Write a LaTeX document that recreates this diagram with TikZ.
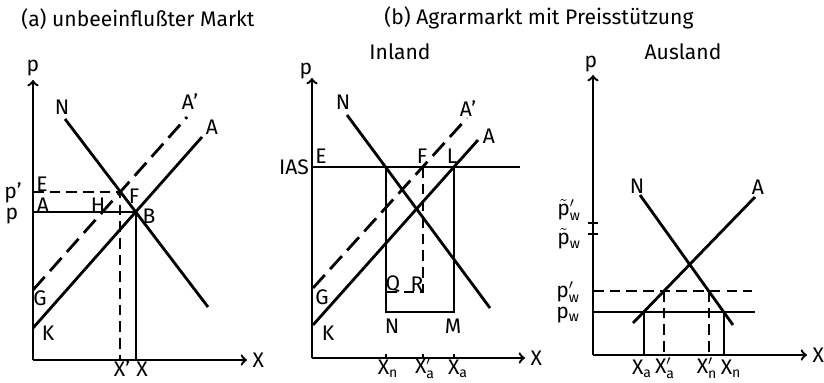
\documentclass[tikz,border=0pt]{standalone}
\usepackage{fontspec}
\setmainfont{Fira Sans}
\usetikzlibrary{arrows, positioning}

\begin{document}
\begin{tikzpicture}[x=0.02cm, y=-0.02cm, font=\large,
    axis/.style={->, line width=1.3pt},
    curve/.style={line width=1.6pt},
    dcurve/.style={line width=1.6pt, dash pattern=on 10pt off 4.5pt},
    guide/.style={line width=1.2pt},
    dguide/.style={line width=1.2pt, dash pattern=on 6pt off 3.5pt},
    lbl/.style={inner sep=0pt}]
    \useasboundingbox (0,0) rectangle (824,382);

    % Titel
    \node[lbl] (titleA) at (138,19) {(a) unbeeinflußter Markt};
    \node[lbl] (titleB) at (539,18) {(b) Agrarmarkt mit Preisstützung};
    \node[lbl] (inland) at (400,52) {Inland};
    \node[lbl] (ausland) at (683,52) {Ausland};

    % ---- (a) unbeeinflusster Markt
    \coordinate (aO) at (33,360);
    \coordinate (aYtop) at (33,80);
    \coordinate (aXend) at (247,360);
    \draw[axis] (aO) -- (aYtop);
    \draw[axis] (aO) -- (aXend);
    \node[lbl] (aP) at (33,68) {p};
    \node[lbl, right=3pt of aXend] (aX) {X};
    % Nachfrage und Angebot
    \coordinate (aN1) at (65,119);
    \coordinate (aN2) at (208,307);
    \coordinate (aK) at (33,328);
    \coordinate (aA2) at (202,137);
    \coordinate (aG) at (33,290);
    \coordinate (aA1) at (187,117);
    \draw[curve] (aN1) -- (aN2);
    \draw[curve] (aK) -- (aA2);
    \draw[dcurve] (aG) -- (aA1);
    \coordinate (aF) at (intersection of aN1--aN2 and aG--aA1);
    \coordinate (aB) at (intersection of aN1--aN2 and aK--aA2);
    \draw[dguide] (aO |- aF) -- (aF) -- (aF |- aO);
    \draw[guide] (aO |- aB) -- (aB) -- (aB |- aO);
    \node[lbl] (aNl) at (62,107) {N};
    \node[lbl] (aA1l) at (190,102) {A'};
    \node[lbl] (aA2l) at (212,127) {A};
    \node[lbl] (aEl) at (42,184) {E};
    \node[lbl] (aPp) at (13,193) {p'};
    \node[lbl] (aAl) at (43,205) {A};
    \node[lbl] (aPl) at (12,216) {p};
    \node[lbl] (aHl) at (98,205) {H};
    \node[lbl] (aFl) at (134,196) {F};
    \node[lbl] (aBl) at (149,216) {B};
    \node[lbl] (aGl) at (40,298) {G};
    \node[lbl] (aKl) at (48,333) {K};
    \node[lbl] (aXp) at (122,369) {X'};
    \node[lbl] (aXb) at (142,369) {X};

    % ---- (b) Inland
    \coordinate (bO) at (312,358);
    \coordinate (bYtop) at (312,78);
    \coordinate (bXend) at (525,358);
    \draw[axis] (bO) -- (bYtop);
    \draw[axis] (bO) -- (bXend);
    \node[lbl] (bP) at (306,71) {p};
    \node[lbl, right=3pt of bXend] (bX) {X};
    % Interventionspreis
    \coordinate (bE) at (312,167);
    \coordinate (bEend) at (520,167);
    \draw[guide] (bE) -- (bEend);
    % Nachfrage und Angebot
    \coordinate (bN1) at (347,115);
    \coordinate (bN2) at (490,308);
    \coordinate (bK) at (313,325);
    \coordinate (bA2) at (478,140);
    \coordinate (bG) at (313,288);
    \coordinate (bA1) at (467,118);
    \draw[curve] (bN1) -- (bN2);
    \draw[curve] (bK) -- (bA2);
    \draw[dcurve] (bG) -- (bA1);
    \coordinate (bNn) at (intersection of bN1--bN2 and bE--bEend);
    \coordinate (bF) at (intersection of bG--bA1 and bE--bEend);
    \coordinate (bL) at (intersection of bK--bA2 and bE--bEend);
    \coordinate (bN) at (bNn |- 0,312);
    \coordinate (bM) at (bL |- 0,312);
    \coordinate (bQ) at (bNn |- 0,292);
    \coordinate (bR) at (bF |- 0,292);
    \draw[guide] (bNn) -- (bN) -- (bM) -- (bL);
    \draw[dguide] (bF) -- (bR) -- (bQ);
    \foreach \c in {bNn, bF, bL}
        \draw[guide] (\c |- bO) -- ++(0,-4);
    \node[lbl] (bIAS) at (294,167) {IAS};
    \node[lbl] (bEl) at (321,156) {E};
    \node[lbl] (bNl) at (343,102) {N};
    \node[lbl] (bA1l) at (468,109) {A'};
    \node[lbl] (bA2l) at (489,136) {A};
    \node[lbl] (bFl) at (422,156) {F};
    \node[lbl] (bLl) at (452,156) {L};
    \node[lbl] (bGl) at (322,297) {G};
    \node[lbl] (bKl) at (328,333) {K};
    \node[lbl] (bQl) at (393,284) {Q};
    \node[lbl] (bRl) at (417,284) {R};
    \node[lbl] (bNb) at (392,326) {N};
    \node[lbl] (bMl) at (453,326) {M};
    \node[lbl] (bXn) at (388,369) {X\textsubscript{n}};
    \node[lbl] (bXa1) at (425,368) {$\mathrm{X}'_{\mathrm{a}}$};
    \node[lbl] (bXa) at (458,369) {X\textsubscript{a}};

    % ---- (b) Ausland
    \coordinate (cO) at (593,355);
    \coordinate (cYtop) at (593,75);
    \coordinate (cXend) at (807,355);
    \draw[axis] (cO) -- (cYtop);
    \draw[axis] (cO) -- (cXend);
    \node[lbl] (cP) at (591,64) {p};
    \node[lbl, right=3pt of cXend] (cX) {X};
    % Weltmarktpreise
    \coordinate (cT1) at (593,223);
    \coordinate (cT2) at (593,234);
    \foreach \c in {cT1, cT2}
        \draw[guide] ([xshift=-3]\c) -- ([xshift=3]\c);
    \coordinate (cPw1) at (593,291);
    \coordinate (cPw1end) at (752,291);
    \coordinate (cPw) at (593,312);
    \coordinate (cPwend) at (755,312);
    \draw[dguide] (cPw1) -- (cPw1end);
    \draw[guide] (cPw) -- (cPwend);
    % Nachfrage und Angebot
    \coordinate (cN1) at (640,195);
    \coordinate (cN2) at (733,325);
    \coordinate (cA1) at (633,323);
    \coordinate (cA2) at (755,197);
    \draw[curve] (cN1) -- (cN2);
    \draw[curve] (cA1) -- (cA2);
    \coordinate (cXa) at (intersection of cA1--cA2 and cPw--cPwend);
    \coordinate (cXn) at (intersection of cN1--cN2 and cPw--cPwend);
    \coordinate (cXa1) at (intersection of cA1--cA2 and cPw1--cPw1end);
    \coordinate (cXn1) at (intersection of cN1--cN2 and cPw1--cPw1end);
    \draw[guide] (cXa) -- (cXa |- cO);
    \draw[guide] (cXn) -- (cXn |- cO);
    \draw[dguide] (cXa1) -- (cXa1 |- cO);
    \draw[dguide] (cXn1) -- (cXn1 |- cO);
    \node[lbl] (cNl) at (637,186) {N};
    \node[lbl] (cAl) at (758,187) {A};
    \node[lbl] (cT1l) at (569,210) {$\tilde{\mathrm{p}}'_{\mathrm{w}}$};
    \node[lbl] (cT2l) at (569,239) {$\tilde{\mathrm{p}}_{\mathrm{w}}$};
    \node[lbl] (cPw1l) at (568,292) {$\mathrm{p}'_{\mathrm{w}}$};
    \node[lbl] (cPwl) at (568,315) {p\textsubscript{w}};
    \node[lbl] (cXal) at (642,369) {X\textsubscript{a}};
    \node[lbl] (cXa1l) at (665,368) {$\mathrm{X}'_{\mathrm{a}}$};
    \node[lbl] (cXn1l) at (707,368) {$\mathrm{X}'_{\mathrm{n}}$};
    \node[lbl] (cXnl) at (731,369) {X\textsubscript{n}};
\end{tikzpicture}
\end{document}
